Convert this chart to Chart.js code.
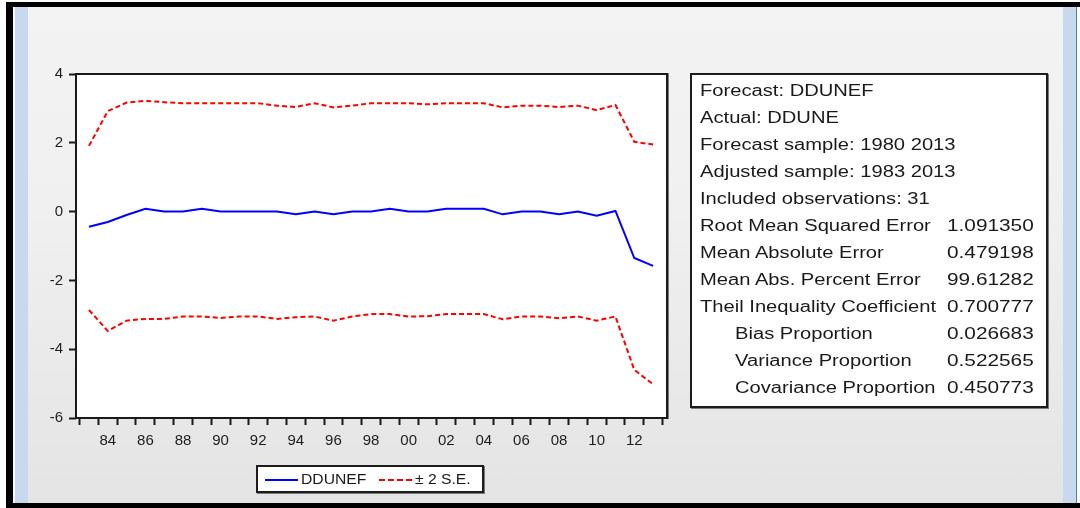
<!DOCTYPE html>
<html>
<head>
<meta charset="utf-8">
<title>DDUNEF forecast</title>
<script src="https://cdn.jsdelivr.net/npm/chart.js@4/dist/chart.umd.min.js"></script>
<style>
  html, body { margin: 0; padding: 0; }
  body {
    width: 1080px; height: 508px; position: relative; overflow: hidden;
    background: #ffffff;
    font-family: "Liberation Sans", Arial, sans-serif;
  }
  .abs { position: absolute; }
  #outer { left: 6px; top: 2px; width: 1074px; height: 506px; background: #000; }
  #pane {
    left: 28px; top: 7px; width: 1035px; height: 496px;
    background: linear-gradient(#f3f3f3, #f0f0f0 40%, #e4e4e4);
  }
  #edgeL { left: 13px; top: 7px; width: 2px; height: 496px; background: #f4f8fc; }
  #stripL { left: 15px; top: 7px; width: 13px; height: 496px; background: #c7d8ef; }
  #stripR { left: 1063px; top: 7px; width: 13px; height: 496px; background: #c7d8ef; }
  #edgeR { left: 1076px; top: 7px; width: 1px; height: 496px; background: #3f8d9c; }
  #whiteR { left: 1077px; top: 7px; width: 3px; height: 496px; background: #ffffff; }
  #chart { left: 0; top: 0; z-index: 1; }

  #stats {
    left: 690px; top: 73px; width: 354px; height: 331px; z-index: 2;
    background: #ffffff; border: 2px solid #1c1c1c;
    box-shadow: 1px 1px 0 #7a7a7a;
  }
  .row {
    position: absolute; left: 0; width: 354px; height: 27px;
    line-height: 27px; font-size: 16px; color: #1a1a1a; white-space: nowrap;
  }
  .lbl { position: absolute; left: 8px; transform: scaleX(1.26); transform-origin: left center; }
  .lbl.sub { left: 43px; }
  .val { position: absolute; right: 12px; transform: scaleX(1.3); transform-origin: right center; }

  #legend {
    left: 256px; top: 465px; width: 224px; height: 24px; z-index: 2;
    background: #ffffff; border: 2px solid #1c1c1c;
    box-shadow: 1px 1px 0 #7a7a7a;
  }
  .lg-line { position: absolute; top: 12px; width: 33px; height: 0; }
  .lg-text {
    position: absolute; top: 0; height: 24px; line-height: 24px;
    font-size: 14px; color: #1a1a1a; white-space: nowrap;
    transform: scaleX(1.12); transform-origin: left center;
  }
</style>
</head>
<body>
<div class="abs" id="outer"></div>
<div class="abs" id="pane"></div>
<div class="abs" id="edgeL"></div>
<div class="abs" id="stripL"></div>
<div class="abs" id="stripR"></div>
<div class="abs" id="edgeR"></div>
<div class="abs" id="whiteR"></div>
<canvas class="abs" id="chart" width="1080" height="508"></canvas>
<div class="abs" id="stats"></div>
<div class="abs" id="legend"></div>

<script>
// Annual observations, 1983-2013
const years = [1983, 1984, 1985, 1986, 1987, 1988, 1989, 1990, 1991, 1992,
               1993, 1994, 1995, 1996, 1997, 1998, 1999, 2000, 2001, 2002,
               2003, 2004, 2005, 2006, 2007, 2008, 2009, 2010, 2011, 2012, 2013];

// Forecast DDUNEF
const forecast = [-0.44, -0.30, -0.10, 0.08, 0.00, 0.00, 0.08, 0.00, 0.00, 0.00,
                  0.00, -0.08, 0.00, -0.08, 0.00, 0.00, 0.08, 0.00, 0.00, 0.08,
                  0.08, 0.08, -0.08, 0.00, 0.00, -0.08, 0.00, -0.12, 0.02, -1.35, -1.58];

// Upper band (+2 S.E.)
const upperBand = [1.91, 2.92, 3.17, 3.22, 3.18, 3.15, 3.15, 3.15, 3.15, 3.15,
                   3.08, 3.04, 3.15, 3.03, 3.08, 3.15, 3.15, 3.15, 3.12, 3.15,
                   3.15, 3.15, 3.03, 3.08, 3.08, 3.04, 3.08, 2.95, 3.10, 2.03, 1.95];

// Lower band (-2 S.E.)
const lowerBand = [-2.86, -3.47, -3.17, -3.12, -3.12, -3.05, -3.05, -3.09, -3.05, -3.05,
                   -3.12, -3.07, -3.05, -3.17, -3.05, -2.98, -2.98, -3.05, -3.04, -2.98,
                   -2.98, -2.98, -3.13, -3.05, -3.05, -3.10, -3.05, -3.17, -3.05, -4.60, -5.02];

// Axis ticks
const yTicks = [-6, -4, -2, 0, 2, 4];
const xTickYears = [1984, 1986, 1988, 1990, 1992, 1994, 1996, 1998, 2000, 2002, 2004, 2006, 2008, 2010, 2012];
const xTickLabels = ['84', '86', '88', '90', '92', '94', '96', '98', '00', '02', '04', '06', '08', '10', '12'];

// Forecast evaluation table
const headerLines = ['Forecast: DDUNEF', 'Actual: DDUNE', 'Forecast sample: 1980 2013',
                     'Adjusted sample: 1983 2013', 'Included observations: 31'];
const statLabels = ['Root Mean Squared Error', 'Mean Absolute Error', 'Mean Abs. Percent Error',
                    'Theil Inequality Coefficient', 'Bias Proportion', 'Variance Proportion',
                    'Covariance Proportion'];
const statValues = ['1.091350', '0.479198', '99.61282', '0.700777', '0.026683', '0.522565', '0.450773'];
const statIndented = [false, false, false, false, true, true, true];

const BLUE = '#0000ff';
const RED = '#ff0000';
const DASH = [5, 3];
const TEXT = '#1e1e1e';
const FONT = '"Liberation Sans", Arial, sans-serif';

const toPoints = vals => years.map((yr, i) => ({ x: yr, y: vals[i] }));

// Year boundaries carry the tick marks; labelled years carry the text
const boundaryTicks = years.map(y => y - 0.5).concat([years[years.length - 1] + 0.5]);

const plotFrame = {
  id: 'plotFrame',
  beforeDraw(chart) {
    const { ctx, chartArea: a } = chart;
    ctx.save();
    ctx.fillStyle = '#ffffff';
    ctx.fillRect(a.left, a.top, a.right - a.left, a.bottom - a.top);
    ctx.restore();
  },
  afterDraw(chart) {
    const { ctx, chartArea: a } = chart;
    ctx.save();
    ctx.strokeStyle = '#1a1a1a';
    ctx.lineWidth = 2;
    ctx.strokeRect(a.left, a.top, a.right - a.left, a.bottom - a.top);
    ctx.strokeStyle = '#7a7a7a';
    ctx.lineWidth = 1;
    ctx.beginPath();
    ctx.moveTo(a.right + 1.5, a.top - 1);
    ctx.lineTo(a.right + 1.5, a.bottom + 1);
    ctx.stroke();
    ctx.restore();
  }
};

const chart = new Chart(document.getElementById('chart'), {
  type: 'line',
  data: {
    datasets: [
      { label: 'DDUNEF', data: toPoints(forecast), borderColor: BLUE, borderWidth: 2,
        pointRadius: 0, tension: 0, fill: false },
      { label: '± 2 S.E.', data: toPoints(upperBand), borderColor: RED, borderWidth: 2,
        borderDash: DASH, pointRadius: 0, tension: 0, fill: false },
      { label: '± 2 S.E.', data: toPoints(lowerBand), borderColor: RED, borderWidth: 2,
        borderDash: DASH, pointRadius: 0, tension: 0, fill: false, hideInLegend: true }
    ]
  },
  options: {
    responsive: false,
    animation: false,
    events: [],
    layout: { padding: { left: 46, top: 74, right: 413, bottom: 60 } },
    plugins: { legend: { display: false }, tooltip: { enabled: false } },
    scales: {
      x: {
        type: 'linear',
        min: 1982.31,
        max: 2013.74,
        afterBuildTicks: s => {
          s.ticks = boundaryTicks.concat(xTickYears).sort((a, b) => a - b).map(v => ({ value: v }));
        },
        afterFit: s => { s.height = 30; },
        border: { display: false },
        grid: {
          drawOnChartArea: false, drawTicks: true, tickLength: 7, tickWidth: 2,
          tickColor: c => (c.tick && Number.isInteger(c.tick.value)) ? 'rgba(0,0,0,0)' : '#1a1a1a'
        },
        ticks: {
          autoSkip: false, maxRotation: 0, minRotation: 0, padding: 7, color: TEXT,
          font: { family: FONT, size: 15 },
          callback: v => {
            const i = xTickYears.indexOf(v);
            return i >= 0 ? xTickLabels[i] : '';
          }
        }
      },
      y: {
        type: 'linear',
        min: -6,
        max: 4,
        afterBuildTicks: s => { s.ticks = yTicks.map(v => ({ value: v })); },
        afterFit: s => { s.width = 30; },
        border: { display: false },
        grid: { drawOnChartArea: false, drawTicks: true, tickLength: 7, tickWidth: 2, tickColor: '#1a1a1a' },
        ticks: { padding: 6, color: TEXT, font: { family: FONT, size: 15 }, callback: v => String(v) }
      }
    }
  },
  plugins: [plotFrame]
});

// Evaluation table
const stats = document.getElementById('stats');
let row = 0;
function addRow(label, value, indent) {
  const r = document.createElement('div');
  r.className = 'row';
  r.style.top = (2 + row * 27) + 'px';
  const l = document.createElement('span');
  l.className = 'lbl' + (indent ? ' sub' : '');
  l.textContent = label;
  r.appendChild(l);
  if (value !== null) {
    const v = document.createElement('span');
    v.className = 'val';
    v.textContent = value;
    r.appendChild(v);
  }
  stats.appendChild(r);
  row++;
}
headerLines.forEach(t => addRow(t, null, false));
statLabels.forEach((t, i) => addRow(t, statValues[i], statIndented[i]));

// Legend built from the chart's datasets
const legend = document.getElementById('legend');
const legendPos = [{ line: 7, text: 43 }, { line: 121, text: 157 }];
chart.data.datasets.filter(d => !d.hideInLegend).forEach((d, i) => {
  const line = document.createElement('div');
  line.className = 'lg-line';
  line.style.left = legendPos[i].line + 'px';
  line.style.borderTop = '2px ' + (d.borderDash ? 'dashed ' : 'solid ') + d.borderColor;
  legend.appendChild(line);
  const txt = document.createElement('div');
  txt.className = 'lg-text';
  txt.style.left = legendPos[i].text + 'px';
  txt.textContent = d.label;
  legend.appendChild(txt);
});
</script>
</body>
</html>
